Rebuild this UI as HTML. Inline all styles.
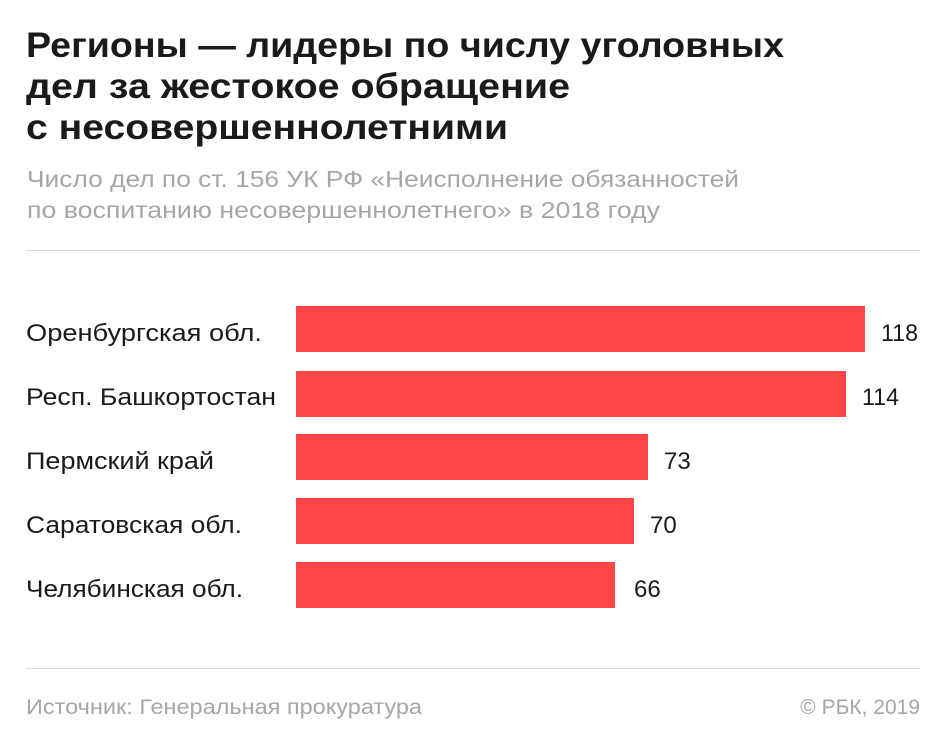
<!DOCTYPE html>
<html><head><meta charset="utf-8"><style>html,body{margin:0;padding:0;background:#fff}svg{display:block}</style></head>
<body>
<svg width="945" height="746" xmlns="http://www.w3.org/2000/svg" font-family="Liberation Sans, sans-serif">
<rect width="945" height="746" fill="#fff"/>
<g font-weight="bold" font-size="35" fill="#1a1a1a">
<text x="26" y="57" textLength="758" lengthAdjust="spacingAndGlyphs">Регионы — лидеры по числу уголовных</text>
<text x="26" y="98" textLength="544" lengthAdjust="spacingAndGlyphs">дел за жестокое обращение</text>
<text x="26" y="139" textLength="482" lengthAdjust="spacingAndGlyphs">с несовершеннолетними</text>
</g>
<g font-size="23" fill="#a6a6a6">
<text x="27" y="187" textLength="712" lengthAdjust="spacingAndGlyphs">Число дел по ст. 156 УК РФ «Неисполнение обязанностей</text>
<text x="27" y="218" textLength="633" lengthAdjust="spacingAndGlyphs">по воспитанию несовершеннолетнего» в 2018 году</text>
</g>
<line x1="26" y1="250.5" x2="920" y2="250.5" stroke="#dcdcdc" stroke-width="1"/>
<line x1="26" y1="668.5" x2="920" y2="668.5" stroke="#dcdcdc" stroke-width="1"/>
<g fill="#ff4545">
<rect x="296" y="306" width="569" height="46"/>
<rect x="296" y="371" width="550" height="46"/>
<rect x="296" y="434" width="352" height="46"/>
<rect x="296" y="498" width="338" height="46"/>
<rect x="296" y="562" width="319" height="46"/>
</g>
<g font-size="24" fill="#1a1a1a">
<text x="26" y="341" textLength="236" lengthAdjust="spacingAndGlyphs">Оренбургская обл.</text>
<text x="26" y="405" textLength="250" lengthAdjust="spacingAndGlyphs">Респ. Башкортостан</text>
<text x="26" y="469" textLength="188" lengthAdjust="spacingAndGlyphs">Пермский край</text>
<text x="26" y="533" textLength="216" lengthAdjust="spacingAndGlyphs">Саратовская обл.</text>
<text x="26" y="597" textLength="217" lengthAdjust="spacingAndGlyphs">Челябинская обл.</text>
<text x="881" y="341" textLength="37" lengthAdjust="spacingAndGlyphs">118</text>
<text x="862" y="405" textLength="37" lengthAdjust="spacingAndGlyphs">114</text>
<text x="664" y="469">73</text>
<text x="650" y="533">70</text>
<text x="634" y="597">66</text>
</g>
<g font-size="21" fill="#a6a6a6">
<text x="26" y="714" textLength="396" lengthAdjust="spacingAndGlyphs">Источник: Генеральная прокуратура</text>
<text x="920" y="714" text-anchor="end">© РБК, 2019</text>
</g>
</svg>
</body></html>
